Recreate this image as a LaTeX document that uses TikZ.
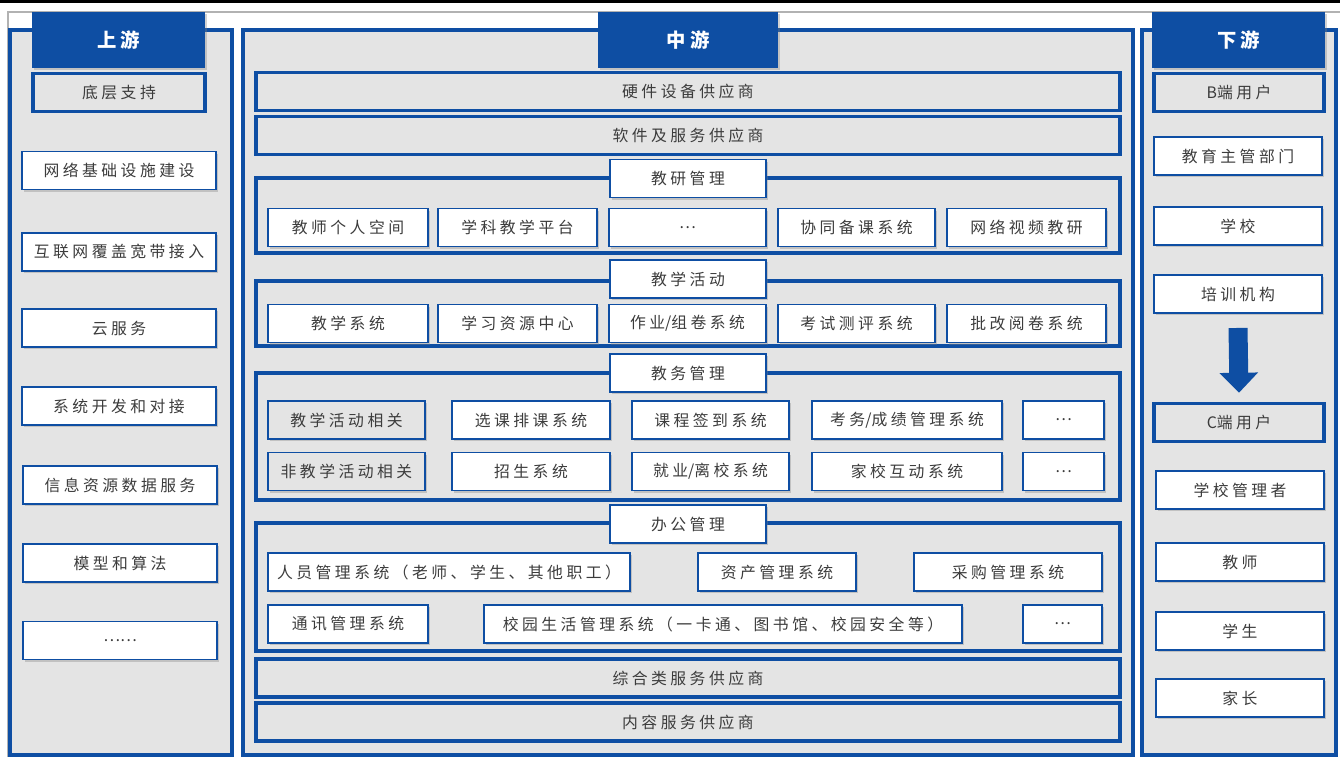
\documentclass[tikz,border=0pt]{standalone}
\usepackage{fontspec}
\setmainfont{Noto Sans CJK SC}[LetterSpace=22]
\newfontfamily\tightcjk{Noto Sans CJK SC}
\usetikzlibrary{shadows,arrows.meta}
\definecolor{chainblue}{RGB}{14,78,163}
\definecolor{panelgray}{RGB}{228,228,228}
\definecolor{textgray}{RGB}{60,60,60}

\begin{document}
\begin{tikzpicture}[font=\fontsize{9}{11}\selectfont, text=textgray,
  boxshadow/.style={drop shadow={shadow xshift=1.3pt, shadow yshift=-1.3pt, opacity=0.35}},
  column/.style={draw=chainblue, line width=2.2pt, fill=panelgray, inner sep=0pt, minimum height=14.5cm, boxshadow},
  head/.style={fill=chainblue, text=white, font=\fontsize{11}{13}\selectfont\bfseries, minimum height=1.12cm, inner sep=0pt, boxshadow},
  tier/.style={draw=chainblue, line width=2pt, fill=panelgray, minimum height=0.76cm, inner sep=0pt},
  item/.style={draw=chainblue, line width=1.1pt, fill=white, minimum height=0.76cm, inner sep=0pt, boxshadow},
  subtier/.style={item, fill=panelgray},
  group/.style={draw=chainblue, line width=2pt, fill=panelgray, minimum width=17.28cm, inner sep=0pt, boxshadow},
  bigarrow/.style={chainblue, line width=0.38cm, -{Triangle[width=0.75cm,length=0.4cm]}}]

    \useasboundingbox (0,0) rectangle (26.8,-15.12);
    \draw[line width=1.4pt] (0,-0.03) -- (26.8,-0.03);
    \draw[black!30, line width=0.6pt] (0.16,-15.3) -- (0.16,-0.24) -- (26.9,-0.24);

    % upstream
    \node[column, minimum width=4.44cm] (upcol) at (2.42,-7.85) {};
    \node[head, minimum width=3.46cm] (uphead) at (2.37,-0.8) {上游};
    \node[tier, minimum width=3.44cm] (upbase) at (2.38,-1.85) {底层支持};
    \node[item, minimum width=3.88cm] (net) at (2.38,-3.41) {网络基础设施建设};
    \node[item, minimum width=3.88cm] (web) at (2.38,-5.04) {互联网覆盖宽带接入};
    \node[item, minimum width=3.88cm] (cloud) at (2.38,-6.56) {云服务};
    \node[item, minimum width=3.88cm] (sysdev) at (2.38,-8.12) {系统开发和对接};
    \node[item, minimum width=3.88cm] (data) at (2.40,-9.70) {信息资源数据服务};
    \node[item, minimum width=3.88cm] (algo) at (2.40,-11.26) {模型和算法};
    \node[item, minimum width=3.88cm] (upmore) at (2.40,-12.81) {\tightcjk ……};

    % midstream
    \node[column, minimum width=17.8cm] (midcol) at (13.76,-7.85) {};
    \node[head, minimum width=3.6cm] (midhead) at (13.76,-0.8) {中游};
    \node[tier, minimum width=17.28cm] (hard) at (13.76,-1.83) {硬件设备供应商};
    \node[tier, minimum width=17.28cm] (soft) at (13.76,-2.71) {软件及服务供应商};

    \node[group, minimum height=1.5cm] (research) at (13.76,-4.31) {};
    \node[item, minimum width=3.12cm] (researchlbl) at (13.76,-3.57) {教研管理};
    \node[item, minimum width=3.2cm] (r1) at (6.96,-4.55) {教师个人空间};
    \node[item, minimum width=3.18cm] (r2) at (10.35,-4.55) {学科教学平台};
    \node[item, minimum width=3.14cm] (r3) at (13.75,-4.55) {…};
    \node[item, minimum width=3.14cm] (r4) at (17.13,-4.55) {协同备课系统};
    \node[item, minimum width=3.18cm] (r5) at (20.53,-4.55) {网络视频教研};

    \node[group, minimum height=1.3cm] (teach) at (13.76,-6.27) {};
    \node[item, minimum width=3.12cm] (teachlbl) at (13.76,-5.58) {教学活动};
    \node[item, minimum width=3.2cm] (t1) at (6.96,-6.47) {教学系统};
    \node[item, minimum width=3.18cm] (t2) at (10.35,-6.47) {学习资源中心};
    \node[item, minimum width=3.14cm] (t3) at (13.75,-6.47) {作业{\tightcjk /}组卷系统};
    \node[item, minimum width=3.14cm] (t4) at (17.13,-6.47) {考试测评系统};
    \node[item, minimum width=3.18cm] (t5) at (20.53,-6.47) {批改阅卷系统};

    \node[group, minimum height=2.54cm] (affairs) at (13.76,-8.73) {};
    \node[item, minimum width=3.12cm] (affairslbl) at (13.76,-7.46) {教务管理};
    \node[subtier, minimum width=3.14cm] (a1) at (6.93,-8.40) {教学活动相关};
    \node[item, minimum width=3.16cm] (a2) at (10.62,-8.40) {选课排课系统};
    \node[item, minimum width=3.14cm] (a3) at (14.21,-8.40) {课程签到系统};
    \node[item, minimum width=3.8cm] (a4) at (18.14,-8.40) {考务{\tightcjk /}成绩管理系统};
    \node[item, minimum width=1.62cm] (a5) at (21.27,-8.40) {…};
    \node[subtier, minimum width=3.14cm] (b1) at (6.93,-9.43) {非教学活动相关};
    \node[item, minimum width=3.16cm] (b2) at (10.62,-9.43) {招生系统};
    \node[item, minimum width=3.14cm] (b3) at (14.21,-9.43) {就业{\tightcjk /}离校系统};
    \node[item, minimum width=3.8cm] (b4) at (18.14,-9.43) {家校互动系统};
    \node[item, minimum width=1.62cm] (b5) at (21.27,-9.43) {…};

    \node[group, minimum height=2.56cm] (office) at (13.76,-11.74) {};
    \node[item, minimum width=3.12cm] (officelbl) at (13.76,-10.48) {办公管理};
    \node[item, minimum width=7.24cm] (o1) at (8.98,-11.44) {人员管理系统（老师、学生、其他职工）};
    \node[item, minimum width=3.16cm] (o2) at (15.54,-11.44) {资产管理系统};
    \node[item, minimum width=3.76cm] (o3) at (20.16,-11.44) {采购管理系统};
    \node[item, minimum width=3.2cm] (p1) at (6.96,-12.48) {通讯管理系统};
    \node[item, minimum width=9.56cm] (p2) at (14.46,-12.48) {校园生活管理系统（一卡通、图书馆、校园安全等）};
    \node[item, minimum width=1.58cm] (p3) at (21.25,-12.48) {…};

    \node[tier, minimum width=17.28cm] (general) at (13.76,-13.56) {综合类服务供应商};
    \node[tier, minimum width=17.28cm] (content) at (13.76,-14.44) {内容服务供应商};

    % downstream
    \node[column, minimum width=3.88cm] (downcol) at (24.78,-7.85) {};
    \node[head, minimum width=3.46cm] (downhead) at (24.77,-0.8) {下游};
    \node[tier, minimum width=3.4cm] (buser) at (24.78,-1.85) {{\tightcjk B}端用户};
    \node[item, minimum width=3.36cm] (bureau) at (24.76,-3.12) {教育主管部门};
    \node[item, minimum width=3.36cm] (school) at (24.76,-4.52) {学校};
    \node[item, minimum width=3.36cm] (train) at (24.76,-5.88) {培训机构};
    \node[tier, minimum width=3.4cm] (cuser) at (24.78,-8.45) {{\tightcjk C}端用户};
    \node[item, minimum width=3.36cm] (admin) at (24.80,-9.80) {学校管理者};
    \node[item, minimum width=3.36cm] (teacher) at (24.80,-11.24) {教师};
    \node[item, minimum width=3.36cm] (student) at (24.80,-12.62) {学生};
    \node[item, minimum width=3.36cm] (parent) at (24.80,-13.96) {家长};

    \draw[bigarrow] ([yshift=-0.28cm]train.south) -- ([yshift=0.18cm]cuser.north);
\end{tikzpicture}
\end{document}
